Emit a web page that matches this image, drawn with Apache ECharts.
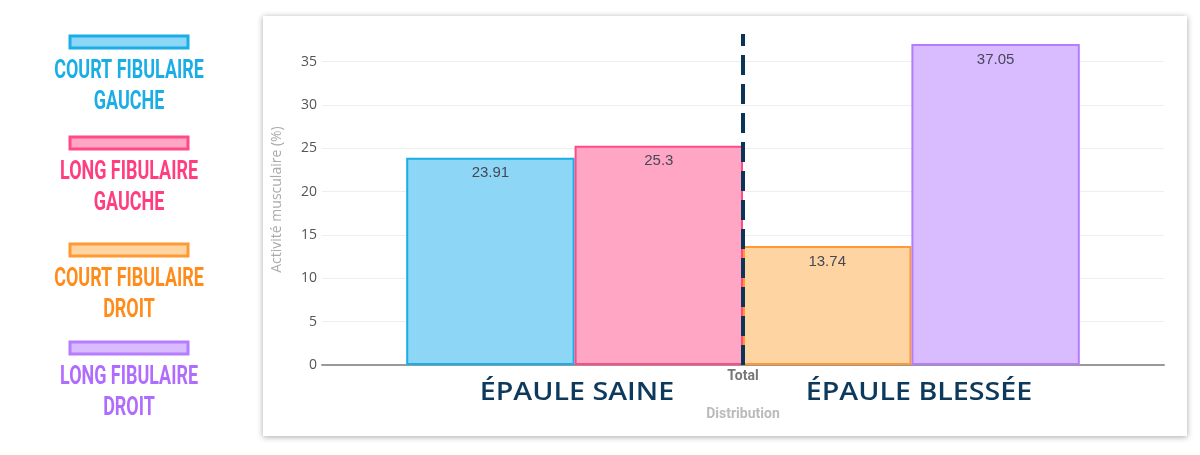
<!DOCTYPE html>
<html>
<head>
<meta charset="utf-8">
<script src="https://cdn.jsdelivr.net/npm/echarts@6/dist/echarts.min.js"></script>
<style>
html,body{margin:0;padding:0;background:#fff;}
#c{width:1200px;height:455px;}
</style>
</head>
<body>
<div id="c"></div>
<script>
const categories = ['Total'];
const seriesNames = ['COURT FIBULAIRE GAUCHE', 'LONG FIBULAIRE GAUCHE', 'COURT FIBULAIRE DROIT', 'LONG FIBULAIRE DROIT'];
const legendLines = [['COURT FIBULAIRE', 'GAUCHE'], ['LONG FIBULAIRE', 'GAUCHE'], ['COURT FIBULAIRE', 'DROIT'], ['LONG FIBULAIRE', 'DROIT']];
const values = [[23.91], [25.3], [13.74], [37.05]];
const groupLabels = ['ÉPAULE SAINE', 'ÉPAULE BLESSÉE'];
const yTicks = [0, 5, 10, 15, 20, 25, 30, 35];

const fills = ['#8dd6f6', '#ffa6c4', '#ffd4a3', '#d9bbff'];
const borders = ['#1aaee6', '#ff4a86', '#ff9a33', '#b57cff'];
const legendText = ['#1aaee6', '#ff3d7f', '#ff8c1a', '#b06cff'];

const chart = echarts.init(document.getElementById('c'), null, {renderer: 'canvas'});

const graphics = [{
  type: 'rect', z: -10,
  shape: {x: 263, y: 16, width: 924, height: 420},
  style: {fill: '#fff', shadowBlur: 6, shadowColor: 'rgba(0,0,0,0.35)', shadowOffsetX: 0, shadowOffsetY: 1}
}];
const legendY = [42, 143, 250, 348];
legendLines.forEach((lines, i) => {
  graphics.push({
    type: 'rect', shape: {x: 70, y: legendY[i] - 6, width: 118, height: 12},
    style: {fill: fills[i], stroke: borders[i], lineWidth: 3}
  });
  lines.forEach((t, j) => {
    graphics.push({
      type: 'text', x: 129, y: legendY[i] + 29 + j * 31, scaleX: 0.69,
      style: {text: t, fill: legendText[i], font: 'bold 26px Roboto, sans-serif', align: 'center', verticalAlign: 'middle'}
    });
  });
});
const groupX = [577, 919];
groupLabels.forEach((t, i) => {
  graphics.push({
    type: 'text', x: groupX[i], y: 393, scaleX: 1.1,
    style: {text: t, fill: '#0d3a5c', font: '600 26px "Open Sans", Lato, sans-serif', align: 'center', verticalAlign: 'middle'}
  });
});

const series = seriesNames.map((n, i) => ({
  name: n,
  type: 'bar',
  data: values[i],
  barGap: '0%',
  barCategoryGap: '20%',
  itemStyle: {color: fills[i], borderColor: borders[i], borderWidth: 2},
  label: {show: true, position: 'insideTop', distance: 8, color: '#464857', fontSize: 15, fontFamily: '"Liberation Sans", Arial, sans-serif'},
  z: 2
}));
series.push({
  name: 'separator',
  type: 'line',
  data: [],
  z: 10,
  markLine: {
    silent: true, symbol: ['none', 'none'],
    label: {show: false},
    lineStyle: {color: '#0b3558', width: 4, type: [20, 9]},
    data: [{xAxis: 'Total'}]
  }
});

chart.setOption({
  animation: false,
  graphic: graphics,
  grid: {left: 322, right: 36, top: 34, bottom: 90},
  xAxis: {
    type: 'category', data: categories,
    name: 'Distribution', nameLocation: 'middle', nameGap: 42,
    nameTextStyle: {color: '#bbb', fontWeight: 'bold', fontSize: 14, fontFamily: 'Roboto, sans-serif'},
    axisLine: {lineStyle: {color: '#999', width: 2}},
    axisTick: {show: false},
    axisLabel: {color: '#777', fontWeight: 'bold', fontSize: 14, margin: 4, fontFamily: 'Roboto, sans-serif'}
  },
  yAxis: {
    type: 'value', min: 0, max: 38.2, interval: 5,
    name: 'Activité musculaire (%)', nameLocation: 'middle', nameGap: 38,
    nameTextStyle: {color: '#aaa', fontSize: 14, fontFamily: 'Open Sans, sans-serif'},
    axisLine: {show: false}, axisTick: {show: false},
    axisLabel: {color: '#555', fontSize: 14, margin: 5, fontFamily: 'Open Sans, sans-serif', showMaxLabel: false,
      formatter: v => yTicks.includes(v) ? String(v) : ''},
    splitLine: {lineStyle: {color: '#eee', width: 1}, showMaxLine: false}
  },
  series: series
});
</script>
</body>
</html>
